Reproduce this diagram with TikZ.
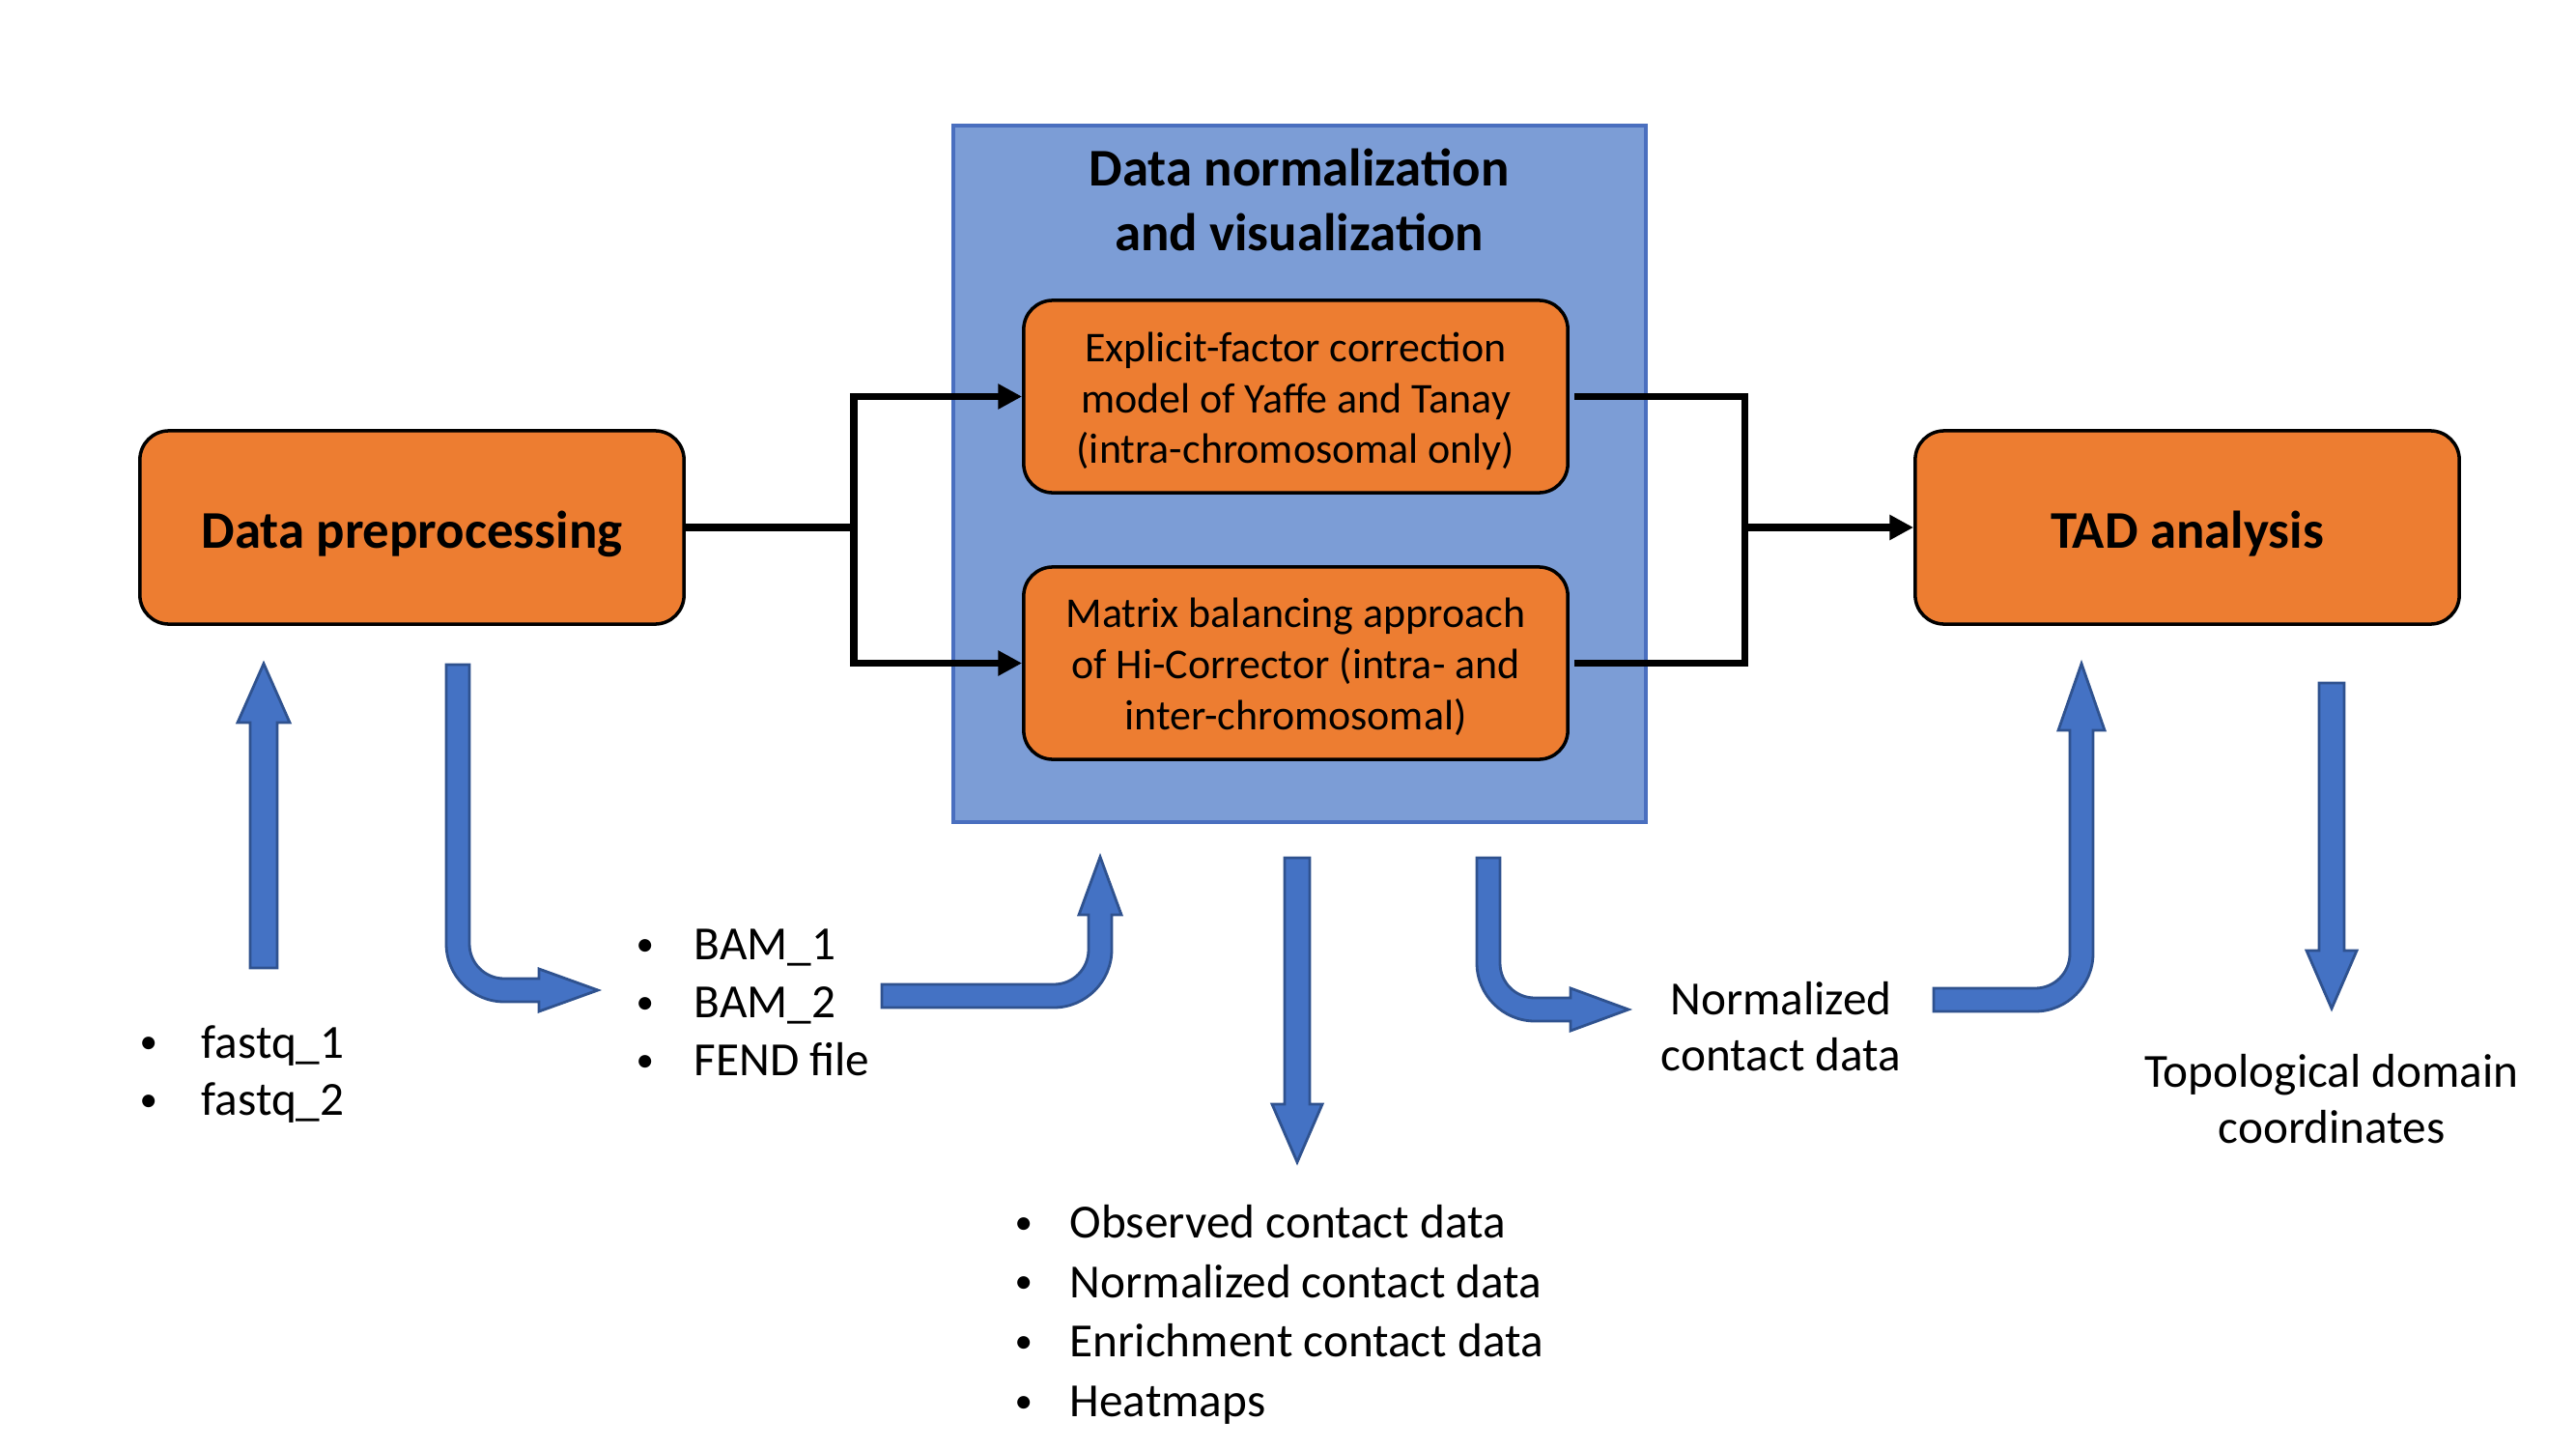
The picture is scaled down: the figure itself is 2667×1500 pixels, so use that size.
\documentclass[tikz,border=0pt]{standalone}
\usepackage{fontspec}
\usepackage{graphicx}
\setmainfont{Carlito}
\usetikzlibrary{arrows.meta}
\definecolor{orng}{HTML}{ED7D31}
\definecolor{bluebg}{HTML}{7C9DD6}
\definecolor{bluebd}{HTML}{4A6FBF}
\definecolor{arrfill}{HTML}{4472C4}
\definecolor{arrline}{HTML}{2F528F}
\newcommand{\bul}[1]{\makebox[#1][l]{\raisebox{0.09em}{\scalebox{0.75}{•}}}}
\tikzset{
 obox/.style={draw=black, line width=1pt, fill=orng, rounded corners=0.3cm, minimum width=5.63cm, inner sep=0},
 bigbox/.style={obox, minimum height=2cm},
 smallbox/.style={obox, minimum height=1.99cm},
 boldtxt/.style={inner sep=0, align=center, font=\bfseries\fontsize{15.6pt}{19pt}\selectfont},
 boxtxt/.style={inner sep=0, align=center, font=\fontsize{12.5pt}{15pt}\selectfont},
 conn/.style={line width=2pt, black, line join=miter},
 carrow/.style={conn, -{Triangle[length=7pt,width=7pt]}},
 blk/.style={fill=arrfill, draw=arrline, line width=0.8pt, line join=miter},
 txt/.style={inner sep=0, font=\fontsize{14pt}{17pt}\selectfont, align=left},
 ltxt/.style={inner sep=0, font=\fontsize{14pt}{17.5pt}\selectfont, align=left},
 ctxt/.style={inner sep=0, font=\fontsize{14pt}{16.5pt}\selectfont, align=center},
}
\begin{document}
\begin{tikzpicture}[x=0.01cm, y=-0.01cm]
\useasboundingbox (0,0) rectangle (2667,1500);

% normalization panel
\node[draw=bluebd, fill=bluebg, line width=1pt, minimum width=7.17cm, minimum height=7.21cm, inner sep=0] (nv) at (1345.5,490.5) {};
\node[boldtxt] (nvt) at (1345,207) {Data normalization\\and visualization};

% main boxes
\node[bigbox] (dp) at (426.5,546) {};
\node[boldtxt] (dpt) at ([yshift=-0.07cm]dp.center) {Data preprocessing};
\node[bigbox] (tad) at (2264.5,546) {};
\node[boldtxt] (tadt) at ([yshift=-0.07cm]tad.center) {TAD analysis};
\node[smallbox] (b1) at (1341.5,410.5) {};
\node[boxtxt] (b1t) at ([yshift=-0.05cm]b1.center) {Explicit-factor correction\\model of Yaffe and Tanay\\(intra-chromosomal only)};
\node[smallbox] (b2) at (1341.5,686.5) {};
\node[boxtxt] (b2t) at ([yshift=-0.04cm]b2.center) {Matrix balancing approach\\of Hi-Corrector (intra- and\\inter-chromosomal)};

% black connectors
\coordinate (j1) at (884,546);
\draw[conn] (dp.east) -- (j1);
\draw[carrow] (j1) |- (b1.west);
\draw[carrow] (j1) |- (b2.west);
\coordinate (j2t) at (1806,410.5);
\coordinate (j2b) at (1806,686.5);
\coordinate (j2m) at (1806,546);
\draw[conn, shorten <=1.5pt] (b1.east) -- (j2t) -- (j2b) -- ([xshift=1.5pt]b2.east);
\draw[carrow] (j2m) -- (tad.west);

% block arrows
\draw[blk] (259,1002) -- (259,748) -- (246,748) -- (273,687) -- (300,748) -- (287,748) -- (287,1002) -- cycle;
\draw[blk] (462,688) -- (462,977) .. controls (462,1010) and (489,1037) .. (522,1037) -- (558,1037) -- (558,1047) -- (619,1025) -- (558,1003) -- (558,1013) -- (522,1013) .. controls (502,1013) and (486,997) .. (486,977) -- (486,688) -- cycle;
\draw[blk] (913,1019) -- (1091,1019) .. controls (1111,1019) and (1127,1003) .. (1127,983) -- (1127,947) -- (1117,947) -- (1139,887) -- (1161,947) -- (1151,947) -- (1151,983) .. controls (1151,1016) and (1124,1043) .. (1091,1043) -- (913,1043) -- cycle;
\draw[blk] (1330,888) -- (1330,1143) -- (1317,1143) -- (1343,1203) -- (1369,1143) -- (1356,1143) -- (1356,888) -- cycle;
\draw[blk] (1529,888) -- (1529,997) .. controls (1529,1030) and (1556,1057) .. (1589,1057) -- (1626,1057) -- (1626,1067) -- (1686,1045) -- (1626,1023) -- (1626,1033) -- (1589,1033) .. controls (1569,1033) and (1553,1017) .. (1553,997) -- (1553,888) -- cycle;
\draw[blk] (2002,1023) -- (2107,1023) .. controls (2127,1023) and (2143,1007) .. (2143,987) -- (2143,756) -- (2131,756) -- (2155,687) -- (2179,756) -- (2167,756) -- (2167,987) .. controls (2167,1020) and (2140,1047) .. (2107,1047) -- (2002,1047) -- cycle;
\draw[blk] (2401,707) -- (2401,984) -- (2388,984) -- (2414,1044) -- (2440,984) -- (2427,984) -- (2427,707) -- cycle;

% texts
\node[txt, anchor=west] (fq) at (144,1112) {\bul{0.64cm}fastq\_1\\\bul{0.64cm}fastq\_2};
\node[txt, anchor=west] (bam) at (658,1038) {\bul{0.6cm}BAM\_1\\\bul{0.6cm}BAM\_2\\\bul{0.6cm}FEND file};
\node[ctxt] (ncd) at (1844,1063) {Normalized\\contact data};
\node[ltxt, anchor=west] (out) at (1050,1361) {\bul{0.57cm}Observed contact data\\\bul{0.57cm}Normalized contact data\\\bul{0.57cm}Enrichment contact data\\\bul{0.57cm}Heatmaps};
\node[ctxt] (tdc) at (2414,1138) {Topological domain\\coordinates};
\end{tikzpicture}
\end{document}
